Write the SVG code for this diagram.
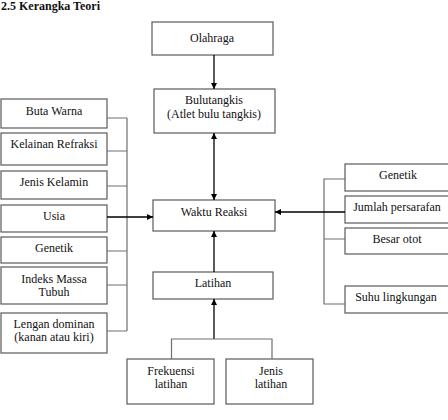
<svg xmlns="http://www.w3.org/2000/svg" width="448" height="420" viewBox="0 0 448 420">
<style>
.box{fill:#fff;stroke:#5a5a5a;stroke-width:1.2}
.t{font-family:'Liberation Serif','DejaVu Serif',serif;font-size:12px;fill:#111;text-anchor:middle}
.title{font-family:'Liberation Serif','DejaVu Serif',serif;font-size:12px;font-weight:bold;fill:#111}
.br{fill:none;stroke:#6e6e6e;stroke-width:1.2}
.ar{fill:none;stroke:#000;stroke-width:1.3}
</style>
<defs>
<marker id="ah" viewBox="0 0 10 10" refX="10" refY="5" markerWidth="6" markerHeight="6" markerUnits="userSpaceOnUse" orient="auto-start-reverse">
<path d="M0,0 L10,5 L0,10 z" fill="#000"/>
</marker>
</defs>
<text class="title" x="1" y="10">2.5<tspan x="19">Kerangka Teori</tspan></text>

<g id="olahraga"><rect class="box" x="152" y="22" width="121" height="33"/><text class="t" x="212" y="42">Olahraga</text></g>
<g id="bulutangkis"><rect class="box" x="154" y="89" width="121" height="44"/><text class="t" x="214" y="104">Bulutangkis</text><text class="t" x="214" y="118">(Atlet bulu tangkis)</text></g>
<g id="waktu"><rect class="box" x="153" y="200" width="122" height="31"/><text class="t" x="214" y="216">Waktu Reaksi</text></g>
<g id="latihan"><rect class="box" x="153" y="272" width="120" height="27"/><text class="t" x="213" y="287">Latihan</text></g>
<g id="frekuensi"><rect class="box" x="127" y="359" width="87" height="45"/><text class="t" x="171" y="375">Frekuensi</text><text class="t" x="171" y="388">latihan</text></g>
<g id="jenis"><rect class="box" x="226" y="359" width="87" height="45"/><text class="t" x="271" y="375">Jenis</text><text class="t" x="271" y="388">latihan</text></g>

<g id="butawarna"><rect class="box" x="1" y="99" width="106" height="29"/><text class="t" x="54" y="115">Buta Warna</text></g>
<g id="kelainan"><rect class="box" x="1" y="133" width="106" height="32"/><text class="t" x="54" y="148">Kelainan Refraksi</text></g>
<g id="jeniskelamin"><rect class="box" x="1" y="171" width="106" height="28"/><text class="t" x="54" y="186">Jenis Kelamin</text></g>
<g id="usia"><rect class="box" x="1" y="205" width="106" height="27"/><text class="t" x="54" y="220">Usia</text></g>
<g id="genetik1"><rect class="box" x="1" y="237" width="106" height="26"/><text class="t" x="54" y="252">Genetik</text></g>
<g id="imt"><rect class="box" x="1" y="267" width="106" height="37"/><text class="t" x="54" y="283">Indeks Massa</text><text class="t" x="54" y="296">Tubuh</text></g>
<g id="lengan"><rect class="box" x="1" y="313" width="106" height="40"/><text class="t" x="54" y="328">Lengan dominan</text><text class="t" x="54" y="341">(kanan atau kiri)</text></g>

<g id="genetik2"><rect class="box" x="345" y="164" width="106" height="27"/><text class="t" x="398" y="179">Genetik</text></g>
<g id="jumlah"><rect class="box" x="345" y="196" width="106" height="27"/><text class="t" x="397" y="211">Jumlah persarafan</text></g>
<g id="besar"><rect class="box" x="345" y="228" width="106" height="26"/><text class="t" x="397" y="243">Besar otot</text></g>
<g id="suhu"><rect class="box" x="345" y="286" width="106" height="27"/><text class="t" x="396" y="301">Suhu lingkungan</text></g>

<g id="connectors">
<path class="ar" d="M214,55 V89" marker-end="url(#ah)"/>
<path class="ar" d="M214,133 V200" marker-start="url(#ah)" marker-end="url(#ah)"/>
<path class="ar" d="M214,272 V231" marker-end="url(#ah)"/>
<path class="ar" d="M214,339 V299" marker-end="url(#ah)"/>
<path class="br" d="M171.5,359 V339 H272 V359"/>
<path class="br" d="M107,118 H127 M107,151 H127 M107,186 H127 M107,251 H127 M107,285 H127 M107,331 H127 M127,118 V331"/>
<path class="ar" d="M107,217 H153" marker-end="url(#ah)"/>
<path class="br" d="M345,179 H324 V304 H345 M324,239 H345"/>
<path class="ar" d="M345,212 H275" marker-end="url(#ah)"/>
</g>
</svg>
